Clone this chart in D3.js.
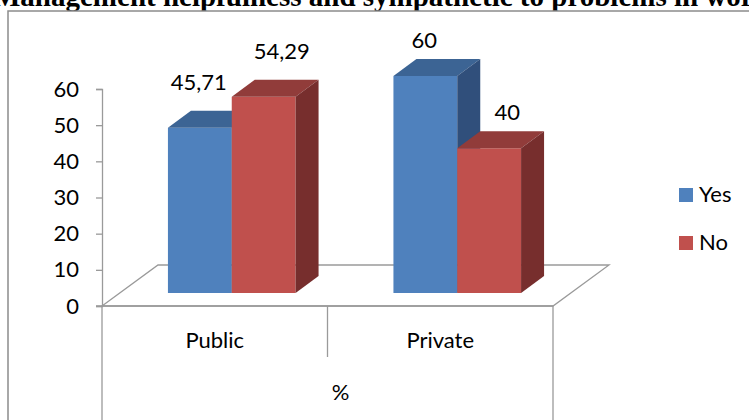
<!DOCTYPE html>
<html>
<head>
<meta charset="utf-8">
<script src="https://cdn.jsdelivr.net/npm/d3@7"></script>
<style>
  html, body { margin: 0; padding: 0; background: #fff; overflow: hidden; }
  svg { display: block; }
</style>
</head>
<body>
<svg id="chart" width="749" height="420"></svg>
<script>
// Survey answers by sector (percent of respondents)
const categories = ["Public", "Private"];
const seriesNames = ["Yes", "No"];
const yesValues = [45.71, 60];
const noValues = [54.29, 40];
const valueLabels = [["45,71", "54,29"], ["60", "40"]];
const yTicks = [0, 10, 20, 30, 40, 50, 60];
const title = "Management helpfulness and sympathetic to problems in work";
const groupLabel = "%";

const series = [
  { name: seriesNames[0], values: yesValues, front: "#4F81BD", top: "#3C6494", side: "#304F7B" },
  { name: seriesNames[1], values: noValues, front: "#C0504D", top: "#913C3A", side: "#772E2D" }
];

const svg = d3.select("#chart");
const font = "Lato, 'Open Sans', sans-serif";

// plot frame
const left = 102, right = 553, base = 306, topY = 89;
const depth = { dx: 56, dy: -41 };      // floor depth
const barShift = { dx: 17, dy: -13 };   // bars sit part-way back on the floor
const barDepth = { dx: 23, dy: -17 };

const y = d3.scaleLinear().domain([0, 60]).range([base, topY]);
const x0 = d3.scaleBand().domain(categories).range([left, right]);
const bw = x0.bandwidth();
const x1 = d3.scaleBand().domain(seriesNames).range([bw * 0.217, bw * 0.783]);

// title (runs above and past the frame)
svg.append("text")
  .attr("x", -7).attr("y", 6)
  .attr("font-family", "'Liberation Serif', 'Times New Roman', serif")
  .attr("font-weight", "bold").attr("font-size", 29)
  .attr("fill", "#000")
  .text(title);

// chart frame
svg.append("rect")
  .attr("x", 8).attr("y", 11).attr("width", 760).attr("height", 430)
  .attr("fill", "#fff").attr("stroke", "#8c8c8c").attr("stroke-width", 1.5);

// floor
const floorPts = [
  [left, base], [left + depth.dx, base + depth.dy],
  [right + depth.dx, base + depth.dy], [right, base]
];
svg.append("path")
  .attr("d", d3.line()(floorPts) + "Z")
  .attr("fill", "#fff").attr("stroke", "#9a9a9a").attr("stroke-width", 1.3);

// y axis
const axisG = svg.append("g").attr("transform", `translate(${left},0)`);
axisG.call(d3.axisLeft(y).tickValues(yTicks).tickSize(6).tickPadding(17).tickFormat(d3.format("d")));
axisG.select(".domain").attr("stroke", "#9a9a9a").attr("stroke-width", 1.3);
axisG.selectAll(".tick line").attr("stroke", "#9a9a9a").attr("stroke-width", 1.3);
axisG.selectAll(".tick text")
  .attr("font-family", font).attr("font-size", 22).attr("fill", "#000");

// category axis lines (two-level)
const gray = "#9a9a9a";
svg.append("line").attr("x1", left - 6).attr("x2", right).attr("y1", base).attr("y2", base)
  .attr("stroke", gray).attr("stroke-width", 1.3);
[left, right].forEach(v => {
  svg.append("line").attr("x1", v).attr("x2", v).attr("y1", base).attr("y2", 420)
    .attr("stroke", gray).attr("stroke-width", 1.3);
});
categories.slice(1).forEach(c => {
  const v = x0(c);
  svg.append("line").attr("x1", v).attr("x2", v).attr("y1", base).attr("y2", 357)
    .attr("stroke", gray).attr("stroke-width", 1.3);
});
svg.selectAll(".catLabel").data(categories).enter().append("text")
  .attr("x", d => x0(d) + bw / 2).attr("y", 348)
  .attr("text-anchor", "middle").attr("font-family", font).attr("font-size", 22)
  .text(d => d);
svg.append("text")
  .attr("x", (left + right) / 2 + 13).attr("y", 400)
  .attr("text-anchor", "middle").attr("font-family", font).attr("font-size", 22)
  .text(groupLabel);

// 3D bars
const labelLift = { Public: 38, Private: 28 };
const labelNudge = { Yes: 0, No: 19 };
const barsG = svg.append("g");
categories.forEach((cat, ci) => {
  series.forEach(s => {
    const v = s.values[ci];
    const xl = x0(cat) + x1(s.name) + barShift.dx;
    const xr = xl + x1.bandwidth();
    const yb = base + barShift.dy;
    const yt = y(v) + barShift.dy;
    const g = barsG.append("g");
    // front
    g.append("path").attr("d", d3.line()([[xl, yb], [xl, yt], [xr, yt], [xr, yb]]) + "Z")
      .attr("fill", s.front);
    // top
    g.append("path").attr("d", d3.line()([[xl, yt], [xl + barDepth.dx, yt + barDepth.dy],
      [xr + barDepth.dx, yt + barDepth.dy], [xr, yt]]) + "Z")
      .attr("fill", s.top);
    // side
    g.append("path").attr("d", d3.line()([[xr, yt], [xr + barDepth.dx, yt + barDepth.dy],
      [xr + barDepth.dx, yb + barDepth.dy], [xr, yb]]) + "Z")
      .attr("fill", s.side);
    // value label
    svg.append("text")
      .attr("x", (xl + xr) / 2 - 1 + labelNudge[s.name])
      .attr("y", yt - labelLift[cat])
      .attr("text-anchor", "middle").attr("font-family", font).attr("font-size", 22)
      .text(valueLabels[ci][series.indexOf(s)]);
  });
});

// legend
const legend = svg.append("g");
series.forEach((s, i) => {
  const ly = 202 + i * 48;
  legend.append("rect").attr("x", 679).attr("y", ly - 14).attr("width", 14).attr("height", 14)
    .attr("fill", s.front);
  legend.append("text").attr("x", 699).attr("y", ly)
    .attr("font-family", font).attr("font-size", 22).text(s.name);
});
</script>
</body>
</html>
